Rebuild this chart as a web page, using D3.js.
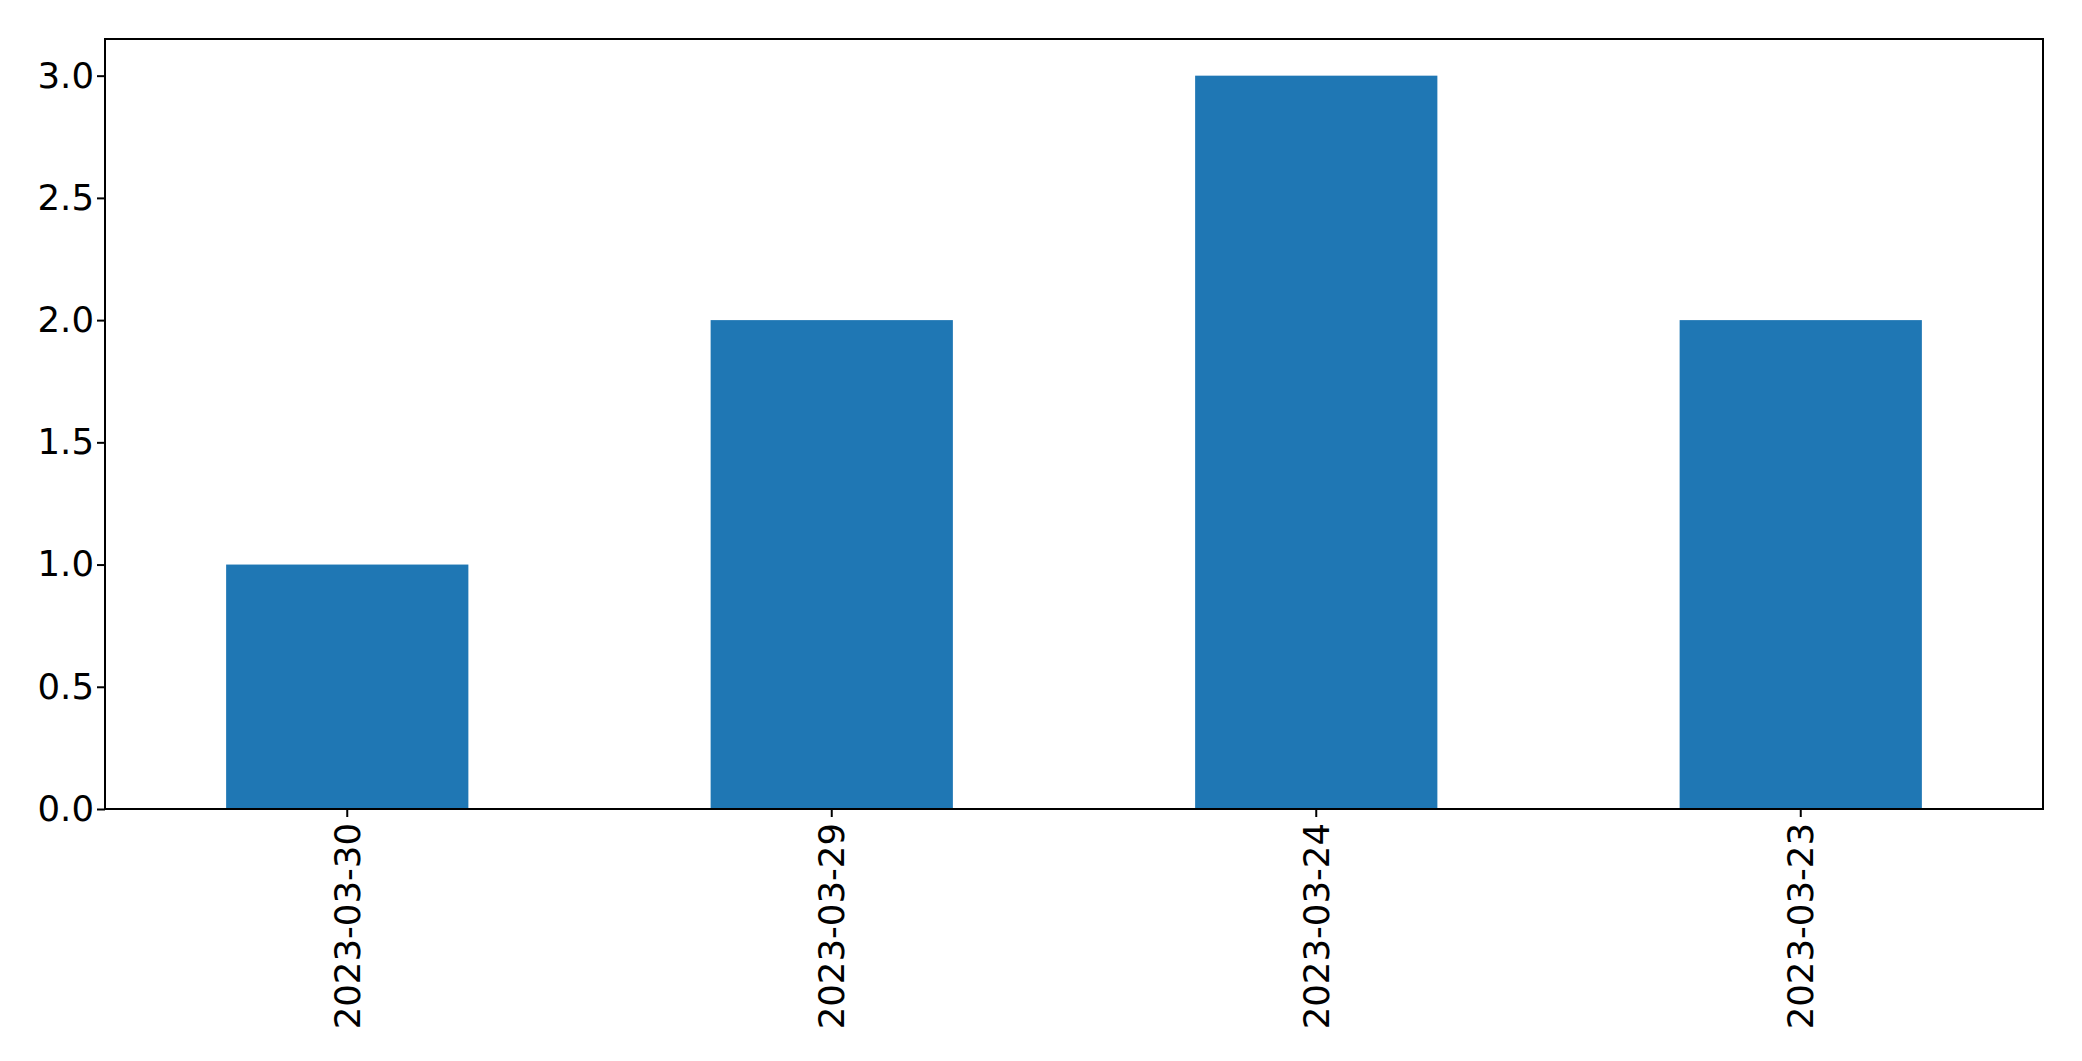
<!DOCTYPE html>
<html><head><meta charset="utf-8">
<script src="https://cdn.jsdelivr.net/npm/d3@7"></script>
<style>html,body{margin:0;padding:0;background:#fff;overflow:hidden}</style>
</head><body>
<svg id="c" width="2082" height="1061"></svg>
<script>
const categories = ["2023-03-30", "2023-03-29", "2023-03-24", "2023-03-23"];
const values = [1, 2, 3, 2];
const yTicks = [0.0, 0.5, 1.0, 1.5, 2.0, 2.5, 3.0];

const W = 2082, H = 1061;
const m = {left: 105, top: 39, right: 2082 - 2043, bottom: 1061 - 809};
const iw = W - m.left - m.right, ih = H - m.top - m.bottom;
const svg = d3.select("#c");
const g = svg.append("g").attr("transform", `translate(${m.left},${m.top})`);

const x = d3.scaleBand().domain(categories).range([0, iw]).paddingInner(0.5).paddingOuter(0.25);
const y = d3.scaleLinear().domain([0, 3.15]).range([ih, 0]);

g.selectAll("rect.bar").data(values).enter().append("rect")
  .attr("class", "bar")
  .attr("x", (d, i) => x(categories[i]))
  .attr("width", x.bandwidth())
  .attr("y", d => y(d))
  .attr("height", d => ih - y(d))
  .attr("fill", "#1f77b4");

const font = "DejaVu Sans, sans-serif";
const fs = 35.5;

const yAxis = g.append("g").call(d3.axisLeft(y).tickValues(yTicks).tickFormat(d3.format(".1f")).tickSize(8).tickPadding(3));
yAxis.select(".domain").remove();
yAxis.selectAll("line").attr("stroke", "#000").attr("stroke-width", 2);
yAxis.selectAll("text").attr("font-family", font).attr("font-size", fs).attr("fill", "#000");

const xAxis = g.append("g").attr("transform", `translate(0,${ih})`).call(d3.axisBottom(x).tickSize(8).tickPadding(0));
xAxis.select(".domain").remove();
xAxis.selectAll("line").attr("stroke", "#000").attr("stroke-width", 2);
xAxis.selectAll("text")
  .attr("font-family", font).attr("font-size", fs).attr("fill", "#000")
  .attr("transform", "translate(0,14) rotate(-90)")
  .attr("x", 0).attr("y", 0).attr("dy", "0.35em")
  .attr("text-anchor", "end");

g.append("rect").attr("x", 0).attr("y", 0).attr("width", iw).attr("height", ih)
  .attr("fill", "none").attr("stroke", "#000").attr("stroke-width", 2);
</script>
</body></html>
